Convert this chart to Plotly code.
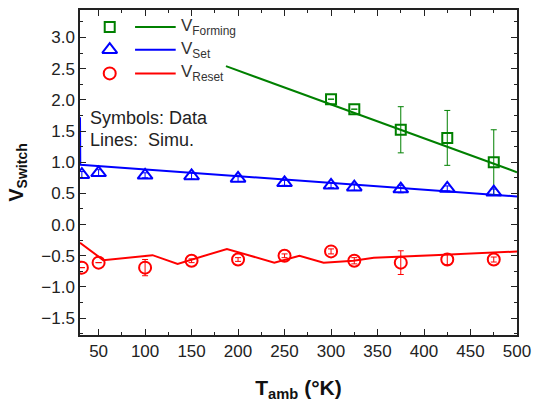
import plotly.graph_objects as go

# Measured data
form_T = [300, 325, 375, 425, 475]
form_V = [2.01, 1.85, 1.52, 1.39, 1.00]
form_err = [0.0, 0.0, 0.37, 0.44, 0.52]

set_T = [32, 50, 100, 150, 200, 250, 300, 325, 375, 425, 475]
set_V = [0.80, 0.83, 0.79, 0.78, 0.74, 0.67, 0.63, 0.60, 0.57, 0.58, 0.52]
set_err = [0.05, 0.05, 0.04, 0.05, 0.05, 0.04, 0.04, 0.05, 0.06, 0.04, 0.05]

reset_T = [32, 50, 100, 150, 200, 250, 300, 325, 375, 425, 475]
reset_V = [-0.69, -0.61, -0.69, -0.58, -0.56, -0.50, -0.43, -0.58, -0.61, -0.56, -0.56]
reset_err = [0.0, 0.0, 0.13, 0.03, 0.03, 0.03, 0.04, 0.05, 0.19, 0.08, 0.04]

# Simulation lines
sim_form_T = [187, 500]
sim_form_V = [2.54, 0.84]
sim_set_T = [30, 30.3, 500]
sim_set_V = [1.72, 0.96, 0.45]
sim_reset_T = [30, 55, 108, 135, 188, 232, 239, 266, 292, 324, 346, 410, 502]
sim_reset_V = [-0.29, -0.57, -0.49, -0.63, -0.39, -0.57, -0.61, -0.50, -0.61, -0.58, -0.53, -0.49, -0.43]

GREEN = "#008000"
BLUE = "#0000FF"
RED = "#FF0000"
FONT = "Liberation Sans, Arial"

fig = go.Figure()

fig.add_trace(go.Scatter(x=sim_form_T, y=sim_form_V, mode="lines",
                         line=dict(color=GREEN, width=2), showlegend=False))
fig.add_trace(go.Scatter(x=sim_set_T, y=sim_set_V, mode="lines",
                         line=dict(color=BLUE, width=2), showlegend=False))
fig.add_trace(go.Scatter(x=sim_reset_T, y=sim_reset_V, mode="lines",
                         line=dict(color=RED, width=2), showlegend=False))

fig.add_trace(go.Scatter(x=form_T, y=form_V, mode="markers",
                         marker=dict(symbol="square-open", size=10, color=GREEN, line=dict(width=2)),
                         error_y=dict(type="data", array=form_err, color=GREEN, thickness=1, width=3),
                         showlegend=False))
fig.add_trace(go.Scatter(x=set_T, y=set_V, mode="markers",
                         marker=dict(symbol="triangle-up-open", size=13, color=BLUE, line=dict(width=2)),
                         error_y=dict(type="data", array=set_err, color=BLUE, thickness=1, width=3),
                         showlegend=False))
fig.add_trace(go.Scatter(x=reset_T, y=reset_V, mode="markers",
                         marker=dict(symbol="circle-open", size=12, color=RED, line=dict(width=2)),
                         error_y=dict(type="data", array=reset_err, color=RED, thickness=1, width=3),
                         showlegend=False))

# Legend drawn on an overlay axis
leg_names = ["V<sub>Forming</sub>", "V<sub>Set</sub>", "V<sub>Reset</sub>"]
leg_colors = [GREEN, BLUE, RED]
leg_symbols = ["square-open", "triangle-up-open", "circle-open"]
leg_sizes = [10, 13, 12]
leg_y = [0.948, 0.878, 0.805]
for name, c, s, sz, yy in zip(leg_names, leg_colors, leg_symbols, leg_sizes, leg_y):
    fig.add_trace(go.Scatter(x=[0.068], y=[yy], mode="markers", xaxis="x2", yaxis="y2",
                             marker=dict(symbol=s, size=sz, color=c, line=dict(width=2)),
                             showlegend=False, cliponaxis=False))
    fig.add_trace(go.Scatter(x=[0.126, 0.219], y=[yy, yy], mode="lines", xaxis="x2", yaxis="y2",
                             line=dict(color=c, width=2), showlegend=False, cliponaxis=False))
    fig.add_annotation(x=0.226, y=yy, xref="x2", yref="y2", text=name, showarrow=False,
                       xanchor="left", yanchor="middle",
                       font=dict(family=FONT, size=17, color="#333"))

fig.add_annotation(x=0.018, y=0.668, xref="paper", yref="paper", text="Symbols: Data",
                   showarrow=False, xanchor="left", yanchor="middle",
                   font=dict(family=FONT, size=18, color="#222"))
fig.add_annotation(x=0.018, y=0.600, xref="paper", yref="paper", text="Lines:  Simu.",
                   showarrow=False, xanchor="left", yanchor="middle",
                   font=dict(family=FONT, size=18, color="#222"))

axis_common = dict(showline=True, linecolor="#222", linewidth=1.5, mirror="allticks",
                   ticks="inside", ticklen=6, tickwidth=1.2, tickcolor="#222",
                   showgrid=False, zeroline=False,
                   tickfont=dict(family=FONT, size=17, color="#222"))

fig.update_layout(
    width=539, height=404,
    margin=dict(l=80, r=16, t=8, b=67),
    plot_bgcolor="white", paper_bgcolor="white",
    xaxis=dict(range=[30, 500], tickvals=[50, 100, 150, 200, 250, 300, 350, 400, 450, 500],
               minor=dict(ticks="inside", ticklen=3, tickwidth=1.2, tickcolor="#222", dtick=25, tick0=0),
               title=dict(text="<b>T<sub>amb</sub> (°K)</b>", standoff=20,
                          font=dict(family=FONT, size=21, color="#111")),
               **axis_common),
    yaxis=dict(range=[-1.77, 3.44], tickvals=[-1.5, -1.0, -0.5, 0.0, 0.5, 1.0, 1.5, 2.0, 2.5, 3.0],
               tickformat=".1f",
               minor=dict(ticks="inside", ticklen=3, tickwidth=1.2, tickcolor="#222", dtick=0.25, tick0=0),
               title=dict(text="<b>V<sub>Switch</sub></b>", standoff=12,
                          font=dict(family=FONT, size=20, color="#111")),
               **axis_common),
    xaxis2=dict(range=[0, 1], overlaying="x", visible=False, domain=[0, 1]),
    yaxis2=dict(range=[0, 1], overlaying="y", visible=False),
)

fig.write_html("out.html")
